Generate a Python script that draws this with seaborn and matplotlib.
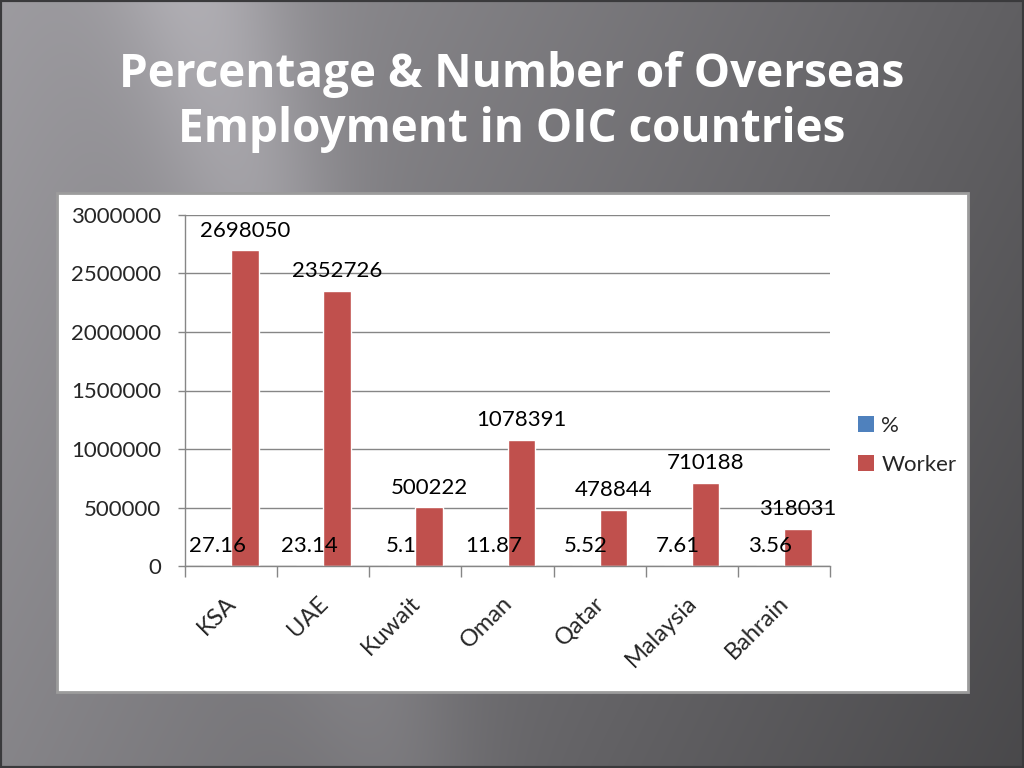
import numpy as np
import pandas as pd
import matplotlib
matplotlib.use('Agg')
import matplotlib.pyplot as plt
import matplotlib.transforms as mtransforms
from matplotlib.patches import Rectangle, Patch
import seaborn as sns

# ---- data ----
countries = ['KSA', 'UAE', 'Kuwait', 'Oman', 'Qatar', 'Malaysia', 'Bahrain']
percent = [27.16, 23.14, 5.1, 11.87, 5.52, 7.61, 3.56]
workers = [2698050, 2352726, 500222, 1078391, 478844, 710188, 318031]
series_names = ['%', 'Worker']
yticks = [0, 500000, 1000000, 1500000, 2000000, 2500000, 3000000]
title = 'Percentage & Number of Overseas\nEmployment in OIC countries'

df = pd.DataFrame({
    'Country': countries * 2,
    'Series': [series_names[0]] * len(countries) + [series_names[1]] * len(countries),
    'Value': percent + workers,
})

sns.set_theme(style='white')
plt.rcParams['font.family'] = ['Lato', 'DejaVu Sans']

W, H = 1024, 768
fig = plt.figure(figsize=(W / 100, H / 100), dpi=100)

# ---- background gradient ----
bg = fig.add_axes([0, 0, 1, 1], zorder=-10)
yy, xx = np.mgrid[0:H, 0:W].astype(float)
base = 0.62 - 0.24 * (xx / W) - 0.09 * (yy / H)
u = xx - 0.25 * yy
amp = 0.12 * (1 - 0.6 * yy / H)
inten = base + amp * np.exp(-((u - 200) / 85) ** 2)
img = np.dstack([inten * 0.99, inten * 0.98, inten * 1.01]).clip(0, 1)
bg.imshow(img, aspect='auto', extent=[0, 1, 0, 1])
bg.axis('off')

# white chart panel
panel = Rectangle((57 / W, 1 - 692 / H), (968 - 57) / W, (692 - 193) / H,
                  transform=fig.transFigure, facecolor='white',
                  edgecolor='#9c9c9c', lw=2, zorder=-5)
fig.patches.append(panel)
frame = Rectangle((0, 0), 1, 1, transform=fig.transFigure, facecolor='none',
                  edgecolor='#3a3a3c', lw=3, zorder=10)
fig.patches.append(frame)

# title
fig.text(0.5, 1 - 102 / H, title, ha='center', va='center', fontsize=33,
         fontweight='bold', color='white', family=['Open Sans', 'DejaVu Sans'],
         linespacing=1.2)

# ---- chart ----
ax = fig.add_axes([185 / W, 1 - 566 / H, (830 - 185) / W, (566 - 215) / H])
ax.patch.set_alpha(0)
colors = {'%': '#4F81BD', 'Worker': '#C0504D'}
sns.barplot(data=df, x='Country', y='Value', hue='Series', palette=colors,
            width=0.6, saturation=1, ax=ax, legend=False)

label_sets = [[str(v) for v in percent], [str(v) for v in workers]]
for cont, labs in zip(ax.containers, label_sets):
    ax.bar_label(cont, labels=labs, padding=7, fontsize=16, color='black')

ax.set_xlim(-0.5, len(countries) - 0.5)
ax.set_ylim(0, 3000000)
ax.set_yticks(yticks)
ax.set_yticklabels([str(v) for v in yticks], fontsize=16)
ax.set_xlabel('')
ax.set_ylabel('')

gray = '#868686'
ax.yaxis.grid(True, color=gray, lw=1)
ax.set_axisbelow(True)
for s in ['top', 'right']:
    ax.spines[s].set_visible(False)
for s in ['left', 'bottom']:
    ax.spines[s].set_color(gray)
    ax.spines[s].set_linewidth(1)

ax.tick_params(axis='y', length=5, color=gray, width=1, pad=12, left=True)
ax.set_xticks(range(len(countries)))
ax.set_xticklabels(countries, rotation=45, ha='right', fontsize=17)
ax.tick_params(axis='x', which='major', length=0, pad=19)
ax.set_xticks(np.arange(-0.5, len(countries), 1), minor=True)
ax.tick_params(axis='x', which='minor', length=8, color=gray, width=1, bottom=True)
shift = mtransforms.ScaledTranslation(0.09, 0, fig.dpi_scale_trans)
for lab in ax.get_xticklabels():
    lab.set_transform(lab.get_transform() + shift)

handles = [Patch(facecolor=colors[s], edgecolor='none') for s in series_names]
fig.legend(handles, series_names, loc='upper left',
           bbox_to_anchor=(838 / W, 1 - 396 / H), bbox_transform=fig.transFigure,
           frameon=False, fontsize=16, handlelength=0.7, handleheight=0.7,
           handletextpad=0.35, labelspacing=0.85)

fig.savefig('out.png', dpi=100)
